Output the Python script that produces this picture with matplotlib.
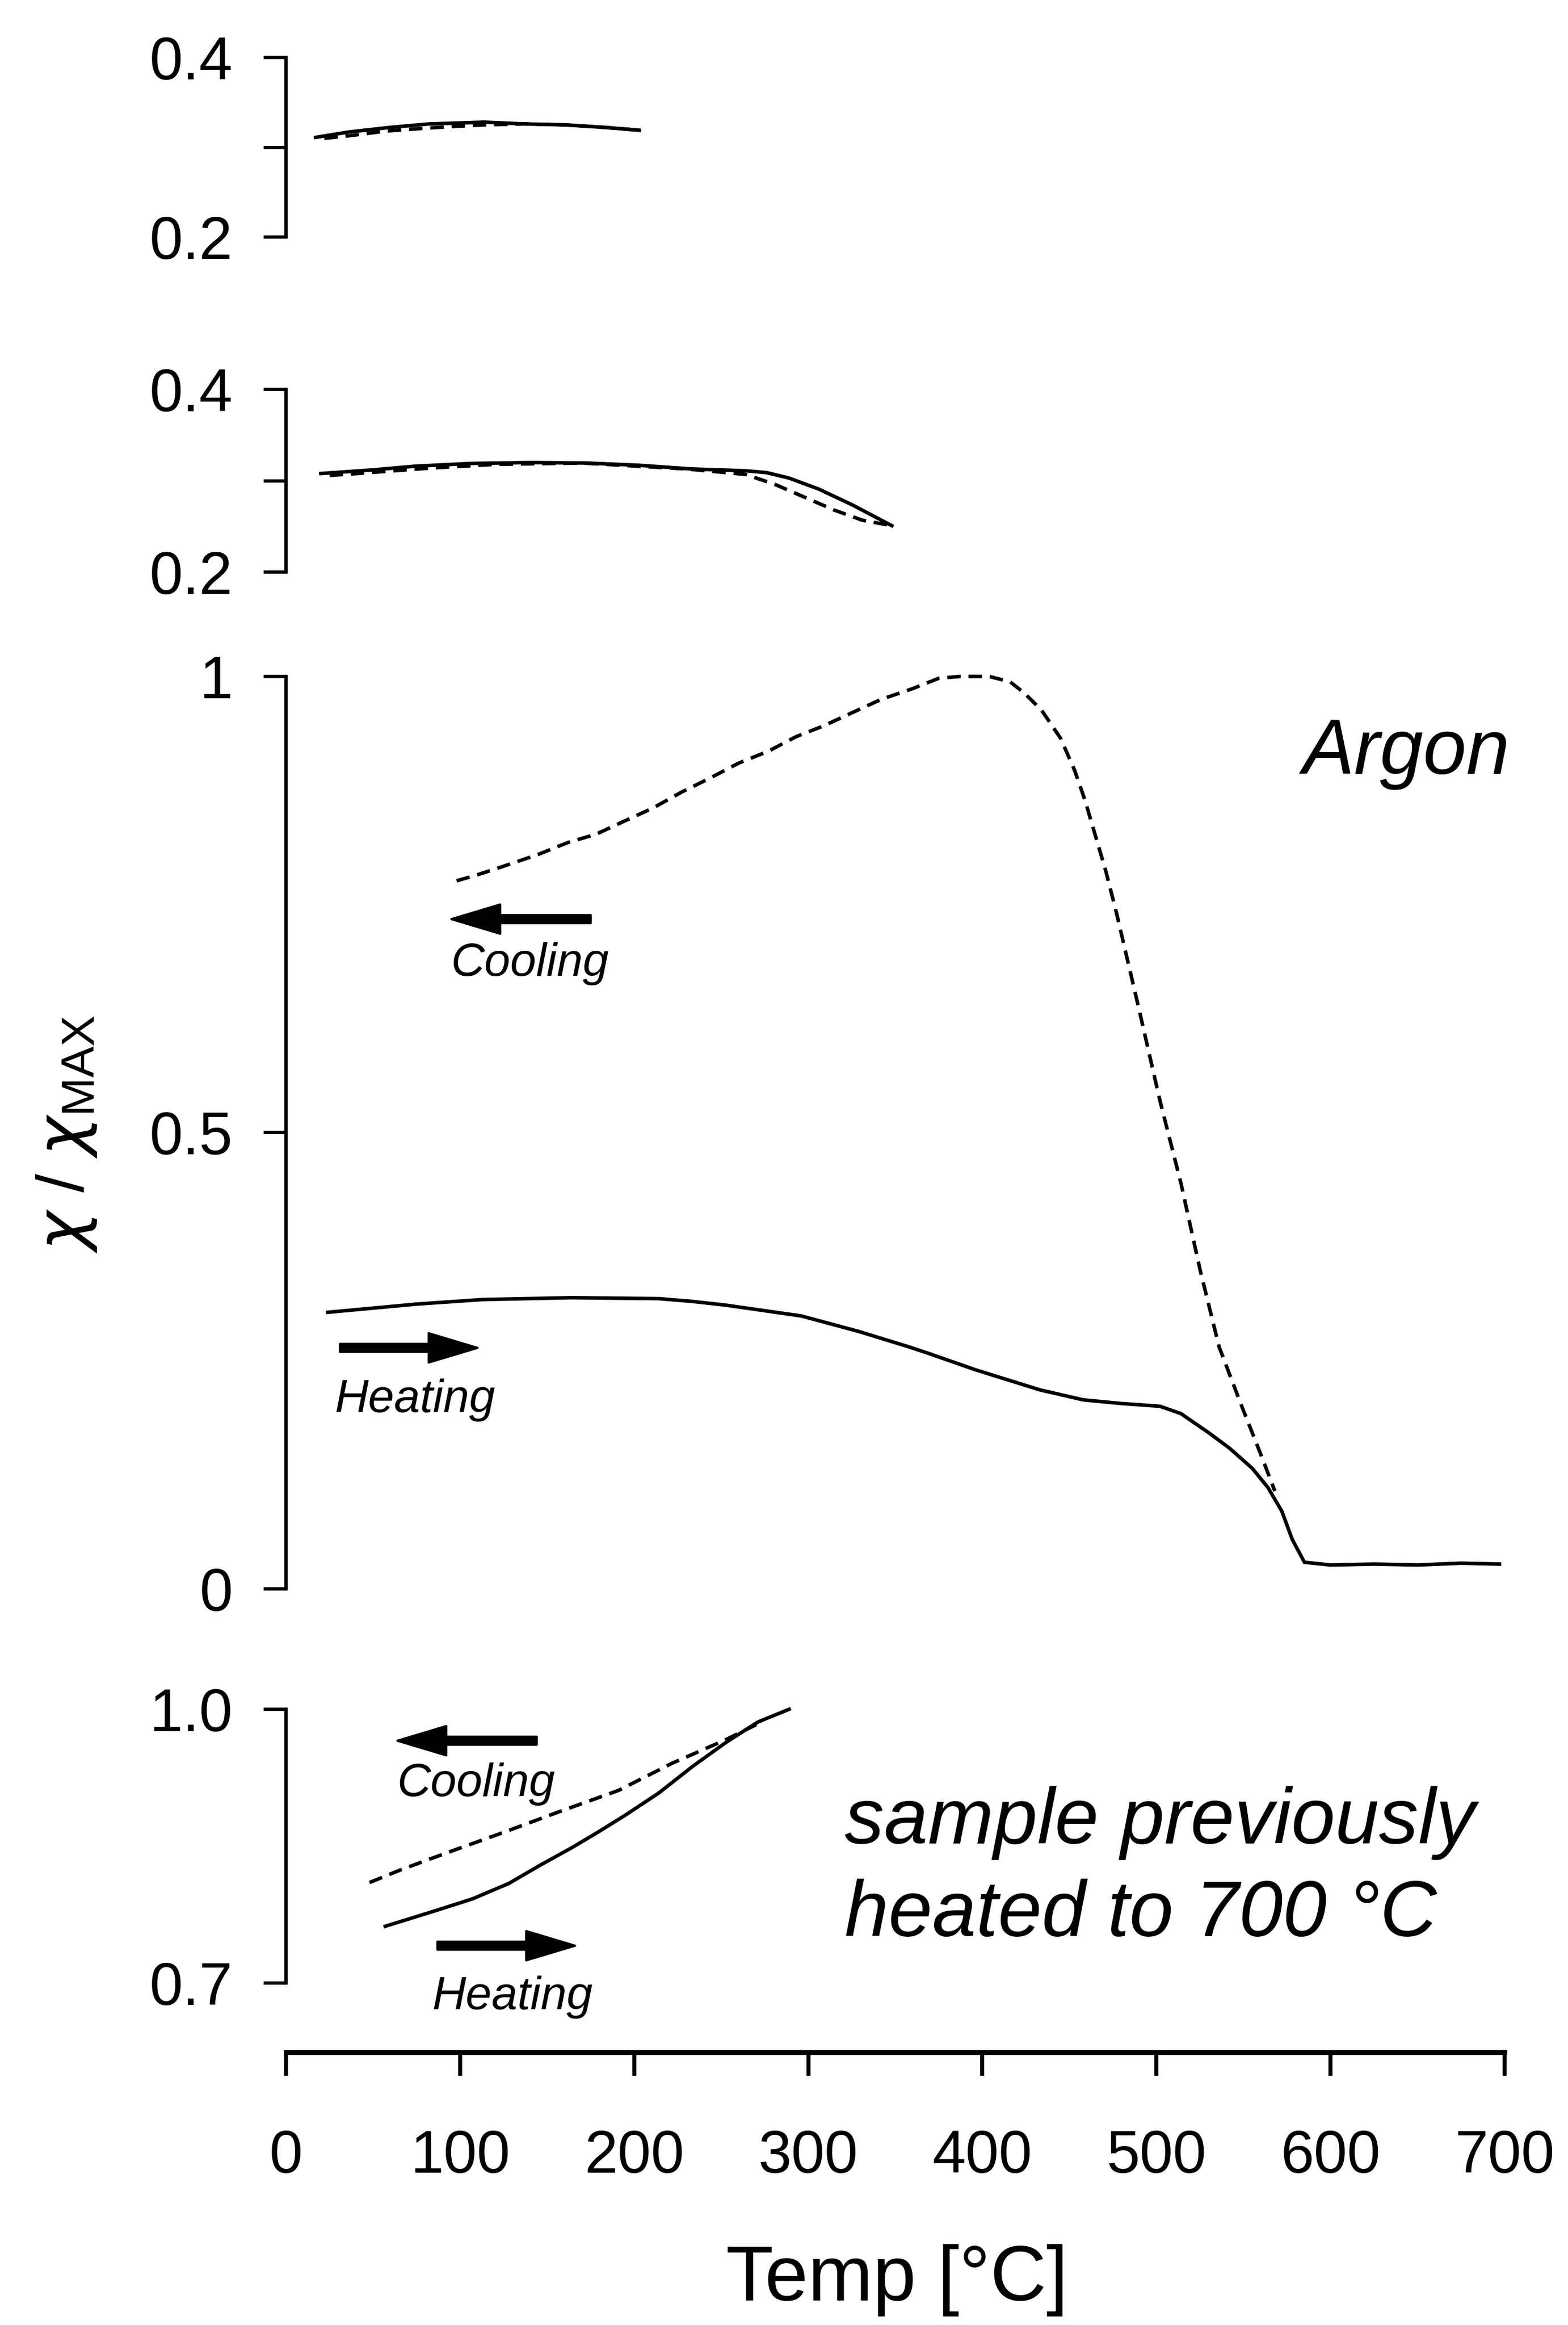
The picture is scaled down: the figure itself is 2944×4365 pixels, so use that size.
import matplotlib.pyplot as plt

plt.rcParams['font.family'] = ['Liberation Sans', 'DejaVu Sans']
plt.rcParams['mathtext.fontset'] = 'custom'
plt.rcParams['mathtext.rm'] = 'Liberation Sans'
plt.rcParams['mathtext.it'] = 'DejaVu Sans:italic'

# run 1: heated to ~200 C
run1_heat_t = [17, 36, 59, 82, 114, 137, 160, 184, 203]
run1_heat_k = [0.311, 0.317, 0.322, 0.326, 0.328, 0.326, 0.325, 0.322, 0.319]
run1_cool_t = [22, 37, 57, 78, 95, 114, 137, 160, 184, 203]
run1_cool_k = [0.310, 0.313, 0.318, 0.321, 0.323, 0.325, 0.326, 0.325, 0.322, 0.319]

# run 2: heated to ~350 C
run2_heat_t = [20, 50, 74, 106, 140, 172, 203, 233, 264, 276, 289, 306, 325, 348]
run2_heat_k = [0.308, 0.312, 0.316, 0.319, 0.320, 0.3195, 0.317, 0.313, 0.311,
               0.309, 0.303, 0.291, 0.274, 0.251]
run2_cool_t = [25, 41, 83, 120, 170, 230, 264, 281, 315, 331, 348]
run2_cool_k = [0.306, 0.308, 0.314, 0.318, 0.3195, 0.313, 0.307, 0.296, 0.268, 0.257, 0.251]

# run 3: full heating to 700 C in argon
run3_heat_t = [24, 75, 113, 164, 214, 233, 252, 296, 329, 358, 369, 396, 433, 458,
               480, 502, 514, 530, 542, 555, 564, 572, 578, 585, 600, 625, 650, 675, 697]
run3_heat_k = [0.303, 0.312, 0.317, 0.319, 0.318, 0.315, 0.311, 0.299, 0.282, 0.265,
               0.258, 0.240, 0.218, 0.207, 0.203, 0.200, 0.192, 0.171, 0.154, 0.132,
               0.111, 0.085, 0.054, 0.029, 0.026, 0.027, 0.026, 0.028, 0.027]
run3_cool_t = [98, 109, 125, 145, 162, 178, 195, 211, 227, 244, 260, 277, 293, 309,
               326, 342, 359, 375, 387, 404, 416, 424, 434, 445, 453, 459, 465, 471,
               477, 490, 502, 514, 525, 536, 549, 561, 568]
run3_cool_k = [0.776, 0.782, 0.792, 0.805, 0.818, 0.827, 0.842, 0.856, 0.873, 0.889,
               0.905, 0.918, 0.934, 0.946, 0.961, 0.975, 0.986, 0.998, 1.0, 1.0, 0.994,
               0.982, 0.963, 0.932, 0.897, 0.864, 0.825, 0.786, 0.741, 0.635, 0.535,
               0.445, 0.350, 0.265, 0.200, 0.142, 0.107]

# run 4: sample previously heated to 700 C
run4_heat_t = [57, 84, 107, 128, 146, 164, 179, 195, 214, 234, 253, 271, 289]
run4_heat_k = [0.762, 0.778, 0.792, 0.809, 0.829, 0.848, 0.865, 0.884, 0.908, 0.938,
               0.964, 0.986, 1.0]
run4_cool_t = [48, 66, 93, 125, 156, 191, 222, 240, 253, 271]
run4_cool_k = [0.810, 0.824, 0.843, 0.865, 0.887, 0.911, 0.941, 0.956, 0.967, 0.984]

temp_ticks = [0, 100, 200, 300, 400, 500, 600, 700]

LW = 1.6
DASH = (3.8, 2.2)
TICK_FS = 27
ITALIC = dict(style='italic')

fig = plt.figure(figsize=(2944 / 300, 4365 / 300), dpi=300)
left, width = 0.1824, 0.7772


def panel(rect, ylim, yticks, ylabels):
    ax = fig.add_axes([left, rect[0], width, rect[1]])
    ax.set_xlim(0, 700)
    ax.set_ylim(*ylim)
    for s in ('top', 'right', 'bottom'):
        ax.spines[s].set_visible(False)
    ax.spines['left'].set_linewidth(1.5)
    ax.patch.set_visible(False)
    ax.set_xticks([])
    ax.set_yticks(yticks)
    ax.set_yticklabels(ylabels)
    ax.tick_params(axis='y', direction='out', length=10, width=1.5, pad=14,
                   labelsize=TICK_FS)
    return ax


def curves(ax, th, kh, tc, kc):
    ax.plot(th, kh, color='black', lw=LW, clip_on=False)
    ax.plot(tc, kc, color='black', lw=LW, dashes=DASH, clip_on=False)


def arrow(ax, tail, tip):
    ax.annotate('', xy=tip, xytext=tail, annotation_clip=False,
                arrowprops=dict(arrowstyle='simple,head_length=1.1,head_width=0.66,tail_width=0.18',
                                color='black', mutation_scale=20, shrinkA=0, shrinkB=0))


ax1 = panel((0.89805, 0.07721), (0.2, 0.4), [0.2, 0.3, 0.4], ['0.2', '', '0.4'])
curves(ax1, run1_heat_t, run1_heat_k, run1_cool_t, run1_cool_k)

ax2 = panel((0.75384, 0.07869), (0.2, 0.4), [0.2, 0.3, 0.4], ['0.2', '', '0.4'])
curves(ax2, run2_heat_t, run2_heat_k, run2_cool_t, run2_cool_k)

ax3 = panel((0.31668, 0.39237), (0, 1), [0, 0.5, 1], ['0', '0.5', '1'])
curves(ax3, run3_heat_t, run3_heat_k, run3_cool_t, run3_cool_k)
arrow(ax3, (175, 0.734), (95, 0.734))
ax3.text(140, 0.685, 'Cooling', fontsize=21, ha='center', va='center', **ITALIC)
arrow(ax3, (31, 0.264), (110, 0.264))
ax3.text(74, 0.207, 'Heating', fontsize=21, ha='center', va='center', **ITALIC)
ax3.text(703, 0.893, 'Argon', fontsize=35, ha='right', va='baseline', **ITALIC)

ax4 = panel((0.14717, 0.11766), (0.7, 1.0), [0.7, 1.0], ['0.7', '1.0'])
curves(ax4, run4_heat_t, run4_heat_k, run4_cool_t, run4_cool_k)
arrow(ax4, (144, 0.9655), (64, 0.9655))
ax4.text(109, 0.918, 'Cooling', fontsize=21, ha='center', va='center', **ITALIC)
arrow(ax4, (87, 0.7407), (166, 0.7407))
ax4.text(130, 0.684, 'Heating', fontsize=21, ha='center', va='center', **ITALIC)
ax4.text(321, 0.8526, 'sample previously', fontsize=35.5, ha='left', va='baseline', **ITALIC)
ax4.text(321, 0.751, 'heated to 700 °C', fontsize=35.5, ha='left', va='baseline', **ITALIC)

# shared temperature axis below the stack
axx = fig.add_axes([left, 0.11729, width, 0.0001])
axx.set_xlim(0, 700)
for s in ('top', 'right', 'left'):
    axx.spines[s].set_visible(False)
axx.spines['bottom'].set_linewidth(2.2)
axx.patch.set_visible(False)
axx.set_yticks([])
axx.set_xticks(temp_ticks)
axx.tick_params(axis='x', direction='out', length=10.5, width=1.8, pad=24,
                labelsize=TICK_FS)

fig.text(0.572, 0.0105, 'Temp [°C]', fontsize=35, ha='center', va='baseline')
fig.text(0.0425, 0.5123, r'$\chi$ / $\chi_{\mathrm{MAX}}$', fontsize=30,
         rotation=90, ha='center', va='center')

fig.savefig('out.png', dpi=300, facecolor='white')
